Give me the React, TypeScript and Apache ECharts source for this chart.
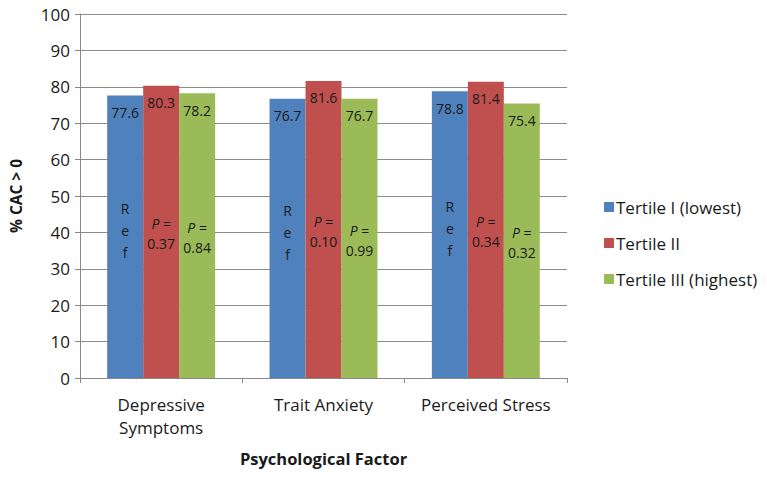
import React, { useEffect, useRef } from "react";
import * as echarts from "echarts";

const categories = ["Depressive\nSymptoms", "Trait Anxiety", "Perceived Stress"];
const seriesNames = ["Tertile I (lowest)", "Tertile II", "Tertile III (highest)"];
const tertile1 = [77.6, 76.7, 78.8];
const tertile2 = [80.3, 81.6, 81.4];
const tertile3 = [78.2, 76.7, 75.4];
const pTertile2 = ["0.37", "0.10", "0.34"];
const pTertile3 = ["0.84", "0.99", "0.32"];
const colors = ["#4f81bd", "#c0504d", "#9bbb59"];
const FONT = "'Open Sans', 'Liberation Sans', sans-serif";

export default function App() {
  const ref = useRef<HTMLDivElement>(null);
  useEffect(() => {
    const chart = echarts.init(ref.current!, null, { renderer: "svg" });
    const valueLabel = {
      show: true,
      position: "insideTop",
      distance: 10,
      color: "#1a1a1a",
      fontSize: 14,
      fontFamily: FONT,
      formatter: (p: any) => p.value.toFixed(1),
    };
    const mainSeries = [tertile1, tertile2, tertile3].map((d, i) => ({
      name: seriesNames[i],
      type: "bar",
      data: d,
      xAxisIndex: 0,
      barGap: "0%",
      barCategoryGap: "33.5%",
      itemStyle: { color: colors[i] },
      label: valueLabel,
    }));
    const pLabel = (arr: string[]) => ({
      show: true,
      position: "inside",
      offset: [0, 2],
      color: "#1a1a1a",
      fontSize: 14,
      fontFamily: FONT,
      lineHeight: 20,
      formatter: (p: any) => `{i|P} =\n${arr[p.dataIndex]}`,
      rich: { i: { fontStyle: "italic", fontSize: 14, fontFamily: FONT, color: "#1a1a1a", lineHeight: 20 } },
    });
    const overlay = [
      {
        name: "refLabel",
        type: "bar",
        data: tertile1,
        xAxisIndex: 1,
        barGap: "0%",
        barCategoryGap: "33.5%",
        itemStyle: { color: "rgba(0,0,0,0)" },
        label: {
          show: true,
          position: "inside",
          offset: [0, -6],
          color: "#1a1a1a",
          fontSize: 14,
          fontFamily: FONT,
          lineHeight: 22,
          formatter: "R\ne\nf",
        },
      },
      {
        name: "p2Label",
        type: "bar",
        data: tertile2,
        xAxisIndex: 1,
        itemStyle: { color: "rgba(0,0,0,0)" },
        label: pLabel(pTertile2),
      },
      {
        name: "p3Label",
        type: "bar",
        data: tertile3,
        xAxisIndex: 1,
        itemStyle: { color: "rgba(0,0,0,0)" },
        label: pLabel(pTertile3),
      },
    ];
    chart.setOption({
      animation: false,
      textStyle: { fontFamily: FONT },
      grid: { left: 80, right: 200, top: 14, bottom: 99, containLabel: false },
      legend: {
        data: seriesNames,
        orient: "vertical",
        left: 599,
        top: 192,
        itemWidth: 10,
        itemHeight: 10,
        itemGap: 16,
        icon: "rect",
        textStyle: { fontSize: 17, lineHeight: 20, color: "#1a1a1a", fontFamily: FONT, padding: [0, 0, 0, -3] },
      },
      xAxis: [
        {
          type: "category",
          data: categories,
          name: "Psychological Factor",
          nameLocation: "middle",
          nameGap: 72,
          nameTextStyle: { fontSize: 16.5, fontWeight: "bold", color: "#1a1a1a", fontFamily: FONT },
          axisLine: { lineStyle: { color: "#888888" } },
          axisTick: { show: true, length: 5, lineStyle: { color: "#888888" } },
          axisLabel: { interval: 0, fontSize: 17, color: "#1a1a1a", margin: 15, lineHeight: 23, fontFamily: FONT },
        },
        {
          type: "category",
          data: categories,
          show: false,
        },
      ],
      yAxis: {
        type: "value",
        min: 0,
        max: 100,
        interval: 10,
        name: "% CAC > 0",
        nameLocation: "middle",
        nameGap: 56,
        nameTextStyle: { fontSize: 15.5, fontWeight: "bold", color: "#1a1a1a", fontFamily: FONT },
        axisLine: { show: true, lineStyle: { color: "#888888" } },
        axisTick: { show: true, length: 5, lineStyle: { color: "#888888" } },
        axisLabel: { fontSize: 17, color: "#1a1a1a", margin: 10, fontFamily: FONT },
        splitLine: { lineStyle: { color: "#8c8c8c" } },
      },
      series: [...mainSeries, ...overlay],
    });
    return () => chart.dispose();
  }, []);
  return <div ref={ref} style={{ width: 767, height: 477, margin: -8 }} />;
}
